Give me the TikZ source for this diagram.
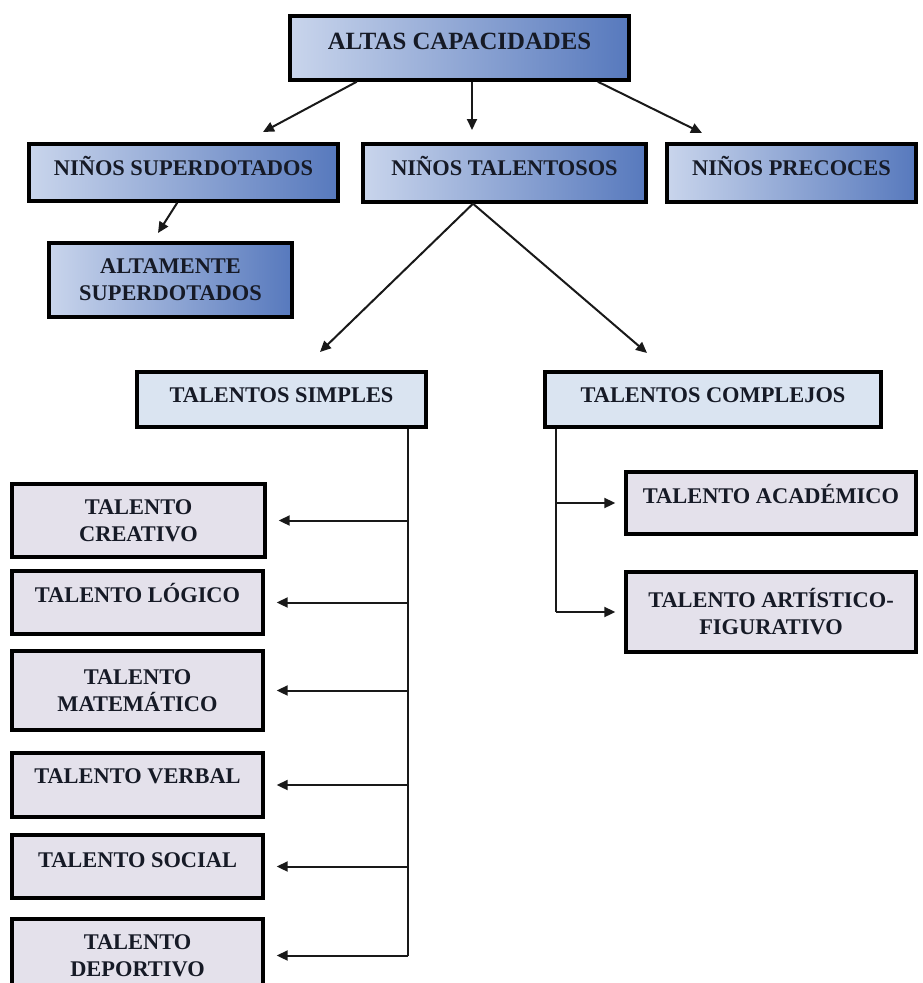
\documentclass[tikz,border=0pt]{standalone}
\usepackage{fontspec}
\setmainfont{Liberation Serif}
\usetikzlibrary{arrows.meta,calc}
\definecolor{txt}{HTML}{161A26}
\definecolor{bl}{HTML}{C9D5EC}
\definecolor{bm}{HTML}{E4EAF6}
\definecolor{br}{HTML}{5779BD}
\definecolor{lb}{HTML}{DAE4F1}
\definecolor{lv}{HTML}{E4E1EB}
\begin{document}
\begin{tikzpicture}[x=1pt,y=-1pt,
  box/.style={draw=black, line width=3.4pt, inner sep=0pt, text=txt, align=center,
    font=\bfseries\fontsize{22.4}{27}\selectfont},
  bluebox/.style={box, left color=bl, middle color=bm, right color=br},
  midbox/.style={box, fill=lb},
  talbox/.style={box, fill=lv},
  sh/.style={text height=15pt, text depth=#1},
  arr/.style={line width=2pt, draw=black!90, -{Triangle[length=11pt,width=10pt]}},
  ln/.style={line width=2pt, draw=black!90}]
\useasboundingbox (0,0) rectangle (923,983);
\clip (0,0) rectangle (923,983);
\fill[white] (0,0) rectangle (923,983);

% top levels
\node[bluebox, minimum width=339pt, minimum height=64pt, sh=13pt,
  font=\bfseries\fontsize{24.8}{29}\selectfont] (AC) at (459.5,48) {ALTAS CAPACIDADES};
\node[bluebox, minimum width=309pt, minimum height=57pt, sh=10pt] (NS) at (183.5,172.5) {NIÑOS SUPERDOTADOS};
\node[bluebox, minimum width=283pt, minimum height=58pt, sh=10pt] (NT) at (504.5,173) {NIÑOS TALENTOSOS};
\node[bluebox, minimum width=249pt, minimum height=58pt, sh=10pt] (NP) at (791.5,173) {NIÑOS PRECOCES};
\node[bluebox, minimum width=243pt, minimum height=74pt] (AS) at (170.5,280) {ALTAMENTE\\SUPERDOTADOS};

% second level
\node[midbox, minimum width=289pt, minimum height=55pt, sh=9pt] (TS) at (281.5,399.5) {TALENTOS SIMPLES};
\node[midbox, minimum width=336pt, minimum height=55pt, sh=9pt] (TC) at (713,399.5) {TALENTOS COMPLEJOS};

% simple talents
\node[talbox, minimum width=253pt, minimum height=73pt] (TCR) at (138.5,520.5) {TALENTO\\CREATIVO};
\node[talbox, minimum width=251pt, minimum height=63pt, sh=16pt] (TL) at (137.5,602.5) {TALENTO LÓGICO};
\node[talbox, minimum width=251pt, minimum height=79pt] (TM) at (137.5,690.5) {TALENTO\\MATEMÁTICO};
\node[talbox, minimum width=251pt, minimum height=64pt, sh=19pt] (TV) at (137.5,785) {TALENTO VERBAL};
\node[talbox, minimum width=251pt, minimum height=63pt, sh=14pt] (TSO) at (137.5,866.5) {TALENTO SOCIAL};
\node[talbox, minimum width=251pt, minimum height=73pt] (TD) at (137.5,955.5) {TALENTO\\DEPORTIVO};

% complex talents
\node[talbox, minimum width=290pt, minimum height=62pt, sh=14pt] (TA) at (771,503) {TALENTO ACADÉMICO};
\node[talbox, minimum width=290pt, minimum height=80pt] (TAF) at (771,612) {TALENTO ARTÍSTICO-\\FIGURATIVO};

% connectors from top
\coordinate (t1) at (263,132);
\coordinate (t2) at (472,130);
\coordinate (t3) at (702,133);
\coordinate (t4) at (158,233);
\coordinate (t5) at (320,352);
\coordinate (t6) at (647,353);
\draw[arr] ($(AC.south west)!0.2!(AC.south east)$) -- (t1);
\draw[arr] (AC.south -| t2) -- (t2);
\draw[arr] ($(AC.south west)!0.904!(AC.south east)$) -- (t3);
\draw[arr] ($(NS.south west)!0.48!(NS.south east)$) -- (t4);
\coordinate (nt) at ($(NT.south west)!0.39!(NT.south east)$);
\draw[arr] (nt) -- (t5);
\draw[arr] (nt) -- (t6);

% simple talents bus
\coordinate (vs) at ($(TS.south west)!0.934!(TS.south east)$);
\draw[ln] (vs) -- (vs |- TD.east);
\foreach \n in {TCR,TL,TM,TV,TSO,TD}
  \draw[arr, shorten >=12pt] (vs |- \n.east) -- (\n.east);

% complex talents bus
\coordinate (vc) at ($(TC.south west)!0.036!(TC.south east)$);
\draw[ln] (vc) -- (vc |- TAF.west);
\foreach \n in {TA,TAF}
  \draw[arr, shorten >=9pt] (vc |- \n.west) -- (\n.west);
\end{tikzpicture}
\end{document}
